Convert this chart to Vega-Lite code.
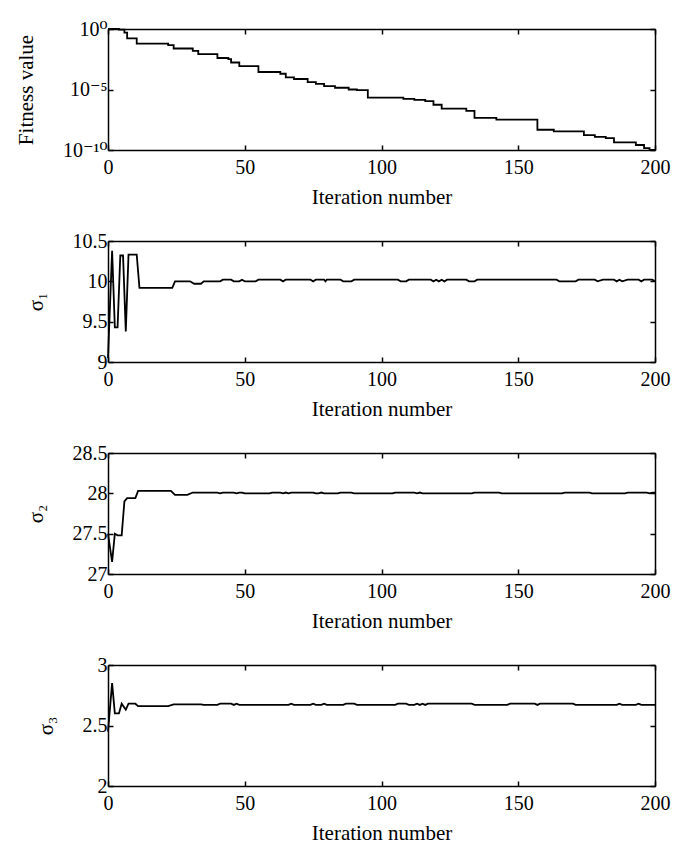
{
  "$schema": "https://vega.github.io/schema/vega-lite/v6.json",
  "padding": {"left": 15, "top": 19, "right": 5, "bottom": 0},
  "background": "white",
  "spacing": 24,
  "config": {
    "view": {"stroke": null},
    "font": "'Liberation Serif', 'DejaVu Serif', serif",
    "axis": {
      "grid": false,
      "domainColor": "black",
      "domainWidth": 1.5,
      "tickColor": "black",
      "tickWidth": 1.5,
      "tickSize": -5,
      "labelFont": "'Liberation Serif', 'DejaVu Serif', serif",
      "labelFontSize": 20,
      "labelColor": "black",
      "labelPadding": 6,
      "labelFlush": false,
      "labelOverlap": false,
      "titleFont": "'Liberation Serif', 'DejaVu Serif', serif",
      "titleFontSize": 21,
      "titleFontWeight": "normal",
      "titleColor": "black",
      "titlePadding": 9
    },
    "axisLeft": {"titlePadding": 26},
    "axisBottom": {"labelPadding": 12}
  },
  "datasets": {
    "fit": [
      {"iter": 0, "value": 1.0},
      {"iter": 4, "value": 0.9},
      {"iter": 6, "value": 0.5},
      {"iter": 7, "value": 0.17},
      {"iter": 10.5, "value": 0.063},
      {"iter": 22, "value": 0.046},
      {"iter": 24, "value": 0.0245},
      {"iter": 31, "value": 0.0158},
      {"iter": 33, "value": 0.0083},
      {"iter": 40, "value": 0.004},
      {"iter": 44, "value": 0.0032},
      {"iter": 45, "value": 0.0017},
      {"iter": 48, "value": 0.00087},
      {"iter": 55, "value": 0.00028},
      {"iter": 63, "value": 0.0002},
      {"iter": 65, "value": 0.0001},
      {"iter": 68, "value": 7.4e-5},
      {"iter": 73, "value": 4.0e-5},
      {"iter": 76, "value": 2.9e-5},
      {"iter": 79, "value": 1.9e-5},
      {"iter": 83, "value": 1.4e-5},
      {"iter": 88, "value": 1.0e-5},
      {"iter": 91, "value": 8.9e-6},
      {"iter": 95, "value": 2.1e-6},
      {"iter": 108, "value": 1.7e-6},
      {"iter": 112, "value": 1.4e-6},
      {"iter": 116, "value": 1.1e-6},
      {"iter": 119, "value": 5.5e-7},
      {"iter": 122, "value": 2.6e-7},
      {"iter": 131, "value": 1.7e-7},
      {"iter": 134, "value": 4.5e-8},
      {"iter": 142, "value": 3.2e-8},
      {"iter": 157, "value": 4.7e-9},
      {"iter": 163, "value": 3.4e-9},
      {"iter": 174, "value": 1.7e-9},
      {"iter": 178, "value": 1.2e-9},
      {"iter": 182, "value": 9.5e-10},
      {"iter": 185, "value": 4.3e-10},
      {"iter": 193, "value": 2.6e-10},
      {"iter": 196, "value": 1.45e-10},
      {"iter": 198, "value": 1.0e-10},
      {"iter": 200, "value": 1.0e-10}
    ],
    "s1": [
      {"iter": 0, "value": 9.05}, {"iter": 1.5, "value": 10.38}, {"iter": 2.5, "value": 9.43}, {"iter": 3.5, "value": 9.43},
      {"iter": 4.5, "value": 10.32}, {"iter": 5.5, "value": 10.32}, {"iter": 6.5, "value": 9.38}, {"iter": 7.5, "value": 10.33},
      {"iter": 10.5, "value": 10.33}, {"iter": 11.5, "value": 9.92}, {"iter": 23.5, "value": 9.92}, {"iter": 24.5, "value": 10.0},
      {"iter": 30, "value": 10.0}, {"iter": 31.5, "value": 9.97}, {"iter": 34, "value": 9.97}, {"iter": 35, "value": 10.0},
      {"iter": 41, "value": 10.0}, {"iter": 42, "value": 10.02}, {"iter": 45, "value": 10.02}, {"iter": 46, "value": 10.0},
      {"iter": 48, "value": 10.0}, {"iter": 49, "value": 10.02}, {"iter": 50, "value": 10.0}, {"iter": 54, "value": 10.0},
      {"iter": 55, "value": 10.02}, {"iter": 63, "value": 10.02}, {"iter": 64, "value": 10.0}, {"iter": 65, "value": 10.02},
      {"iter": 74, "value": 10.02}, {"iter": 75, "value": 10.0}, {"iter": 76, "value": 10.02}, {"iter": 79, "value": 10.02},
      {"iter": 79.5, "value": 10.0}, {"iter": 80, "value": 10.02}, {"iter": 85, "value": 10.02}, {"iter": 86, "value": 10.0},
      {"iter": 89, "value": 10.0}, {"iter": 90, "value": 10.02}, {"iter": 106, "value": 10.02}, {"iter": 107, "value": 10.0},
      {"iter": 109, "value": 10.0}, {"iter": 110, "value": 10.02}, {"iter": 118, "value": 10.02}, {"iter": 119, "value": 10.0},
      {"iter": 120, "value": 10.02}, {"iter": 121, "value": 10.0}, {"iter": 122, "value": 10.02}, {"iter": 123, "value": 10.0},
      {"iter": 124, "value": 10.02}, {"iter": 131, "value": 10.02}, {"iter": 132, "value": 10.0}, {"iter": 134, "value": 10.0},
      {"iter": 135, "value": 10.02}, {"iter": 164, "value": 10.02}, {"iter": 165, "value": 10.0}, {"iter": 171, "value": 10.0},
      {"iter": 172, "value": 10.02}, {"iter": 178, "value": 10.02}, {"iter": 179, "value": 10.0}, {"iter": 181, "value": 10.02},
      {"iter": 185, "value": 10.02}, {"iter": 186, "value": 10.0}, {"iter": 187, "value": 10.02}, {"iter": 188, "value": 10.0},
      {"iter": 190, "value": 10.02}, {"iter": 194, "value": 10.02}, {"iter": 195, "value": 10.0}, {"iter": 196, "value": 10.02},
      {"iter": 199, "value": 10.02}, {"iter": 200, "value": 10.0}
    ],
    "s2": [
      {"iter": 0, "value": 27.5}, {"iter": 1.5, "value": 27.15}, {"iter": 2.5, "value": 27.5}, {"iter": 3.5, "value": 27.48},
      {"iter": 5, "value": 27.48}, {"iter": 6, "value": 27.9}, {"iter": 7, "value": 27.94}, {"iter": 10, "value": 27.94},
      {"iter": 11, "value": 28.03}, {"iter": 23, "value": 28.03}, {"iter": 24.5, "value": 27.98}, {"iter": 29, "value": 27.98},
      {"iter": 31, "value": 28.01}, {"iter": 40, "value": 28.01}, {"iter": 41, "value": 28.0}, {"iter": 42, "value": 28.01},
      {"iter": 46, "value": 28.01}, {"iter": 47, "value": 28.0}, {"iter": 48, "value": 28.01}, {"iter": 49, "value": 28.01},
      {"iter": 50, "value": 28.0}, {"iter": 59, "value": 28.0}, {"iter": 60, "value": 28.01}, {"iter": 63, "value": 28.01},
      {"iter": 64, "value": 28.0}, {"iter": 65, "value": 28.01}, {"iter": 66, "value": 28.0}, {"iter": 67, "value": 28.01},
      {"iter": 75, "value": 28.01}, {"iter": 76, "value": 28.0}, {"iter": 77, "value": 28.0}, {"iter": 78, "value": 28.01},
      {"iter": 79, "value": 28.0}, {"iter": 84, "value": 28.0}, {"iter": 85, "value": 28.01}, {"iter": 89, "value": 28.01},
      {"iter": 90, "value": 28.0}, {"iter": 104, "value": 28.0}, {"iter": 105, "value": 28.01}, {"iter": 112, "value": 28.01},
      {"iter": 113, "value": 28.0}, {"iter": 114, "value": 28.01}, {"iter": 115, "value": 28.0}, {"iter": 133, "value": 28.0},
      {"iter": 134, "value": 28.01}, {"iter": 143, "value": 28.01}, {"iter": 144, "value": 28.0}, {"iter": 166, "value": 28.0},
      {"iter": 167, "value": 28.01}, {"iter": 176, "value": 28.01}, {"iter": 177, "value": 28.0}, {"iter": 189, "value": 28.0},
      {"iter": 190, "value": 28.01}, {"iter": 197, "value": 28.01}, {"iter": 198, "value": 28.0}, {"iter": 199, "value": 28.01},
      {"iter": 200, "value": 28.01}
    ],
    "s3": [
      {"iter": 0, "value": 2.45}, {"iter": 1.5, "value": 2.85}, {"iter": 2.5, "value": 2.6}, {"iter": 4, "value": 2.6},
      {"iter": 5, "value": 2.68}, {"iter": 6.5, "value": 2.63}, {"iter": 7.5, "value": 2.68}, {"iter": 10, "value": 2.68},
      {"iter": 11, "value": 2.66}, {"iter": 22, "value": 2.66}, {"iter": 24, "value": 2.675}, {"iter": 34, "value": 2.675},
      {"iter": 35, "value": 2.67}, {"iter": 40, "value": 2.67}, {"iter": 41, "value": 2.68}, {"iter": 45, "value": 2.68},
      {"iter": 46, "value": 2.67}, {"iter": 47, "value": 2.68}, {"iter": 48, "value": 2.67}, {"iter": 66, "value": 2.67},
      {"iter": 67, "value": 2.68}, {"iter": 68, "value": 2.67}, {"iter": 74, "value": 2.67}, {"iter": 75, "value": 2.68},
      {"iter": 76, "value": 2.67}, {"iter": 78, "value": 2.67}, {"iter": 79, "value": 2.68}, {"iter": 80, "value": 2.67},
      {"iter": 86, "value": 2.67}, {"iter": 87, "value": 2.68}, {"iter": 90, "value": 2.68}, {"iter": 91, "value": 2.67},
      {"iter": 105, "value": 2.67}, {"iter": 106, "value": 2.68}, {"iter": 109, "value": 2.68}, {"iter": 110, "value": 2.67},
      {"iter": 112, "value": 2.67}, {"iter": 113, "value": 2.68}, {"iter": 114, "value": 2.67}, {"iter": 115, "value": 2.68},
      {"iter": 116, "value": 2.67}, {"iter": 117, "value": 2.68}, {"iter": 133, "value": 2.68}, {"iter": 134, "value": 2.67},
      {"iter": 146, "value": 2.67}, {"iter": 147, "value": 2.68}, {"iter": 156, "value": 2.68}, {"iter": 157, "value": 2.67},
      {"iter": 158, "value": 2.68}, {"iter": 170, "value": 2.68}, {"iter": 171, "value": 2.67}, {"iter": 186, "value": 2.67},
      {"iter": 187, "value": 2.68}, {"iter": 188, "value": 2.67}, {"iter": 193, "value": 2.67}, {"iter": 194, "value": 2.68},
      {"iter": 195, "value": 2.67}, {"iter": 200, "value": 2.67}
    ]
  },
  "vconcat": [
    {
      "width": 547, "height": 121,
      "data": {"name": "fit"},
      "layer": [
        {
          "mark": {"type": "line", "color": "black", "strokeWidth": 1.8, "interpolate": "step-after"},
          "encoding": {
            "x": {"field": "iter", "type": "quantitative", "scale": {"domain": [0, 200], "nice": false},
                  "axis": {"orient": "bottom", "values": [0, 50, 100, 150, 200], "title": "Iteration number"}},
            "y": {"field": "value", "type": "quantitative", "scale": {"type": "log", "domain": [1e-10, 1], "nice": false},
                  "axis": {"orient": "left", "values": [1e-10, 1e-5, 1], "title": "Fitness value",
                           "labelExpr": "datum.value > 0.5 ? '10⁰' : (datum.value > 1e-7 ? '10⁻⁵' : '10⁻¹⁰')"}}
          }
        },
        {
          "mark": {"type": "line", "opacity": 0},
          "encoding": {
            "x": {"field": "iter", "type": "quantitative", "axis": {"orient": "top", "values": [0, 50, 100, 150, 200], "labels": false, "title": null}},
            "y": {"field": "value", "type": "quantitative", "axis": {"orient": "right", "values": [1e-10, 1e-5, 1], "labels": false, "title": null}}
          }
        }
      ],
      "resolve": {"axis": {"x": "independent", "y": "independent"}}
    },
    {
      "width": 547, "height": 121,
      "data": {"name": "s1"},
      "layer": [
        {
          "mark": {"type": "line", "color": "black", "strokeWidth": 1.8},
          "encoding": {
            "x": {"field": "iter", "type": "quantitative", "scale": {"domain": [0, 200], "nice": false},
                  "axis": {"orient": "bottom", "values": [0, 50, 100, 150, 200], "title": "Iteration number"}},
            "y": {"field": "value", "type": "quantitative", "scale": {"domain": [9, 10.5], "nice": false, "zero": false},
                  "axis": {"orient": "left", "values": [9, 9.5, 10, 10.5], "title": "σ₁", "labelExpr": "'' + datum.value"}}
          }
        },
        {
          "mark": {"type": "line", "opacity": 0},
          "encoding": {
            "x": {"field": "iter", "type": "quantitative", "axis": {"orient": "top", "values": [0, 50, 100, 150, 200], "labels": false, "title": null}},
            "y": {"field": "value", "type": "quantitative", "axis": {"orient": "right", "values": [9, 9.5, 10, 10.5], "labels": false, "title": null}}
          }
        }
      ],
      "resolve": {"axis": {"x": "independent", "y": "independent"}}
    },
    {
      "width": 547, "height": 121,
      "data": {"name": "s2"},
      "layer": [
        {
          "mark": {"type": "line", "color": "black", "strokeWidth": 1.8},
          "encoding": {
            "x": {"field": "iter", "type": "quantitative", "scale": {"domain": [0, 200], "nice": false},
                  "axis": {"orient": "bottom", "values": [0, 50, 100, 150, 200], "title": "Iteration number"}},
            "y": {"field": "value", "type": "quantitative", "scale": {"domain": [27, 28.5], "nice": false, "zero": false},
                  "axis": {"orient": "left", "values": [27, 27.5, 28, 28.5], "title": "σ₂", "labelExpr": "'' + datum.value"}}
          }
        },
        {
          "mark": {"type": "line", "opacity": 0},
          "encoding": {
            "x": {"field": "iter", "type": "quantitative", "axis": {"orient": "top", "values": [0, 50, 100, 150, 200], "labels": false, "title": null}},
            "y": {"field": "value", "type": "quantitative", "axis": {"orient": "right", "values": [27, 27.5, 28, 28.5], "labels": false, "title": null}}
          }
        }
      ],
      "resolve": {"axis": {"x": "independent", "y": "independent"}}
    },
    {
      "width": 547, "height": 121,
      "data": {"name": "s3"},
      "layer": [
        {
          "mark": {"type": "line", "color": "black", "strokeWidth": 1.8},
          "encoding": {
            "x": {"field": "iter", "type": "quantitative", "scale": {"domain": [0, 200], "nice": false},
                  "axis": {"orient": "bottom", "values": [0, 50, 100, 150, 200], "title": "Iteration number"}},
            "y": {"field": "value", "type": "quantitative", "scale": {"domain": [2, 3], "nice": false, "zero": false},
                  "axis": {"orient": "left", "values": [2, 2.5, 3], "title": "σ₃", "labelExpr": "'' + datum.value"}}
          }
        },
        {
          "mark": {"type": "line", "opacity": 0},
          "encoding": {
            "x": {"field": "iter", "type": "quantitative", "axis": {"orient": "top", "values": [0, 50, 100, 150, 200], "labels": false, "title": null}},
            "y": {"field": "value", "type": "quantitative", "axis": {"orient": "right", "values": [2, 2.5, 3], "labels": false, "title": null}}
          }
        }
      ],
      "resolve": {"axis": {"x": "independent", "y": "independent"}}
    }
  ]
}
